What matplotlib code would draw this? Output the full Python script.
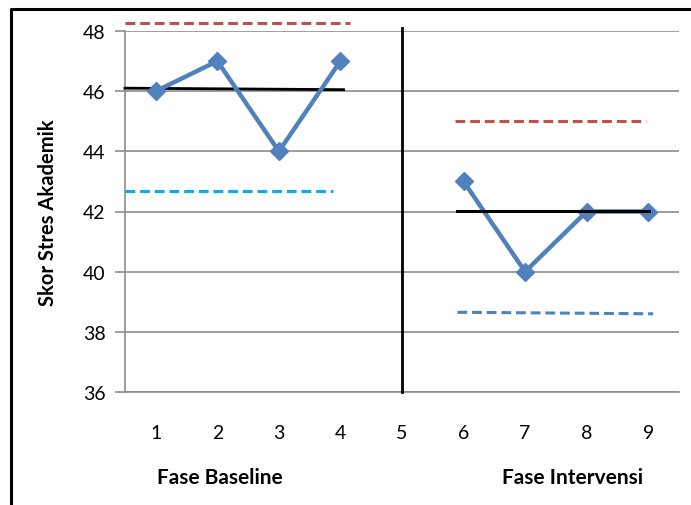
import matplotlib
matplotlib.use("Agg")
import matplotlib.pyplot as plt
from matplotlib.lines import Line2D

plt.rcParams['font.family'] = ['Lato', 'DejaVu Sans']

# Sessions and academic stress scores
sessions = [1, 2, 3, 4, 5, 6, 7, 8, 9]
baseline_x = [1, 2, 3, 4]
baseline_y = [46, 47, 44, 47]
intervention_x = [6, 7, 8, 9]
intervention_y = [43, 40, 42, 42]

# Reference lines: (x_start, x_end, y_start, y_end)
baseline_mean = (0.5, 4.05, 46.1, 46.05)
baseline_upper = (0.5, 4.15, 48.28, 48.28)
baseline_lower = (0.5, 3.88, 42.68, 42.68)
interv_mean = (5.9, 9.02, 42.03, 42.03)
interv_upper = (5.86, 8.97, 45.0, 45.0)
interv_lower = (5.9, 9.08, 38.65, 38.6)
phase_change = 5

y_ticks = [36, 38, 40, 42, 44, 46, 48]
phase_labels = ["Fase Baseline", "Fase Intervensi"]
y_title = "Skor Stres Akademik"

fig = plt.figure(figsize=(6.91, 5.06), dpi=100)
W, H = 691, 506
ax = fig.add_axes([125 / W, 1 - 393 / H, (679 - 125) / W, (393 - 32) / H])

ax.set_xlim(0.5, 9.5)
ax.set_ylim(36, 48)
ax.set_yticks(y_ticks)
ax.set_xticks(sessions)
ax.yaxis.grid(True, color='#8c8c8c', linewidth=1.2)
ax.set_axisbelow(True)
for s in ['top', 'right']:
    ax.spines[s].set_visible(False)
ax.spines['left'].set_color('#8c8c8c')
ax.spines['left'].set_linewidth(1.2)
ax.spines['bottom'].set_color('#8c8c8c')
ax.spines['bottom'].set_linewidth(1.2)
ax.tick_params(axis='y', length=7, width=1.2, color='#8c8c8c', labelsize=14, pad=7)
ax.tick_params(axis='x', length=0, labelsize=14, pad=23)

blue = '#4F81BD'
ax.plot(baseline_x, baseline_y, color=blue, lw=3.2, marker='D', ms=9, zorder=4, clip_on=False)
ax.plot(intervention_x, intervention_y, color=blue, lw=3.2, marker='D', ms=9, zorder=4, clip_on=False)

def seg(spec, **kw):
    x0, x1, y0, y1 = spec
    ax.plot([x0, x1], [y0, y1], clip_on=False, **kw)

seg(baseline_mean, color='black', lw=2, zorder=3)
seg(interv_mean, color='black', lw=2.2, zorder=5)
seg(baseline_upper, color='#C0504D', lw=2.2, linestyle=(0, (3.2, 1.6)))
seg(baseline_lower, color='#00B0F0', lw=2.2, linestyle=(0, (3.2, 1.6)))
seg(interv_upper, color='#C0504D', lw=2.2, linestyle=(0, (3.2, 1.6)))
seg(interv_lower, color=blue, lw=2.2, linestyle=(0, (3.2, 1.6)))

ax.plot([phase_change, phase_change], [36, 48.1], color='black', lw=2, clip_on=False, zorder=5)

ax.set_ylabel(y_title, fontsize=14.5, fontweight='bold')
ax.yaxis.set_label_coords((48 - 125) / (679 - 125), (393 - 213) / (393 - 32))
ax.yaxis.label.set_va('center')

fig.text(220 / W, 1 - 478 / H, phase_labels[0], ha='center', va='center', fontsize=15, fontweight='bold')
fig.text(573 / W, 1 - 478 / H, phase_labels[1], ha='center', va='center', fontsize=15, fontweight='bold')

# Outer frame (top and left edges)
fig.add_artist(Line2D([11 / W, 11 / W, 1.0], [0.0, 1 - 10 / H, 1 - 10 / H],
                      transform=fig.transFigure, color='black', lw=2.2))

fig.savefig('out.png', dpi=100)
